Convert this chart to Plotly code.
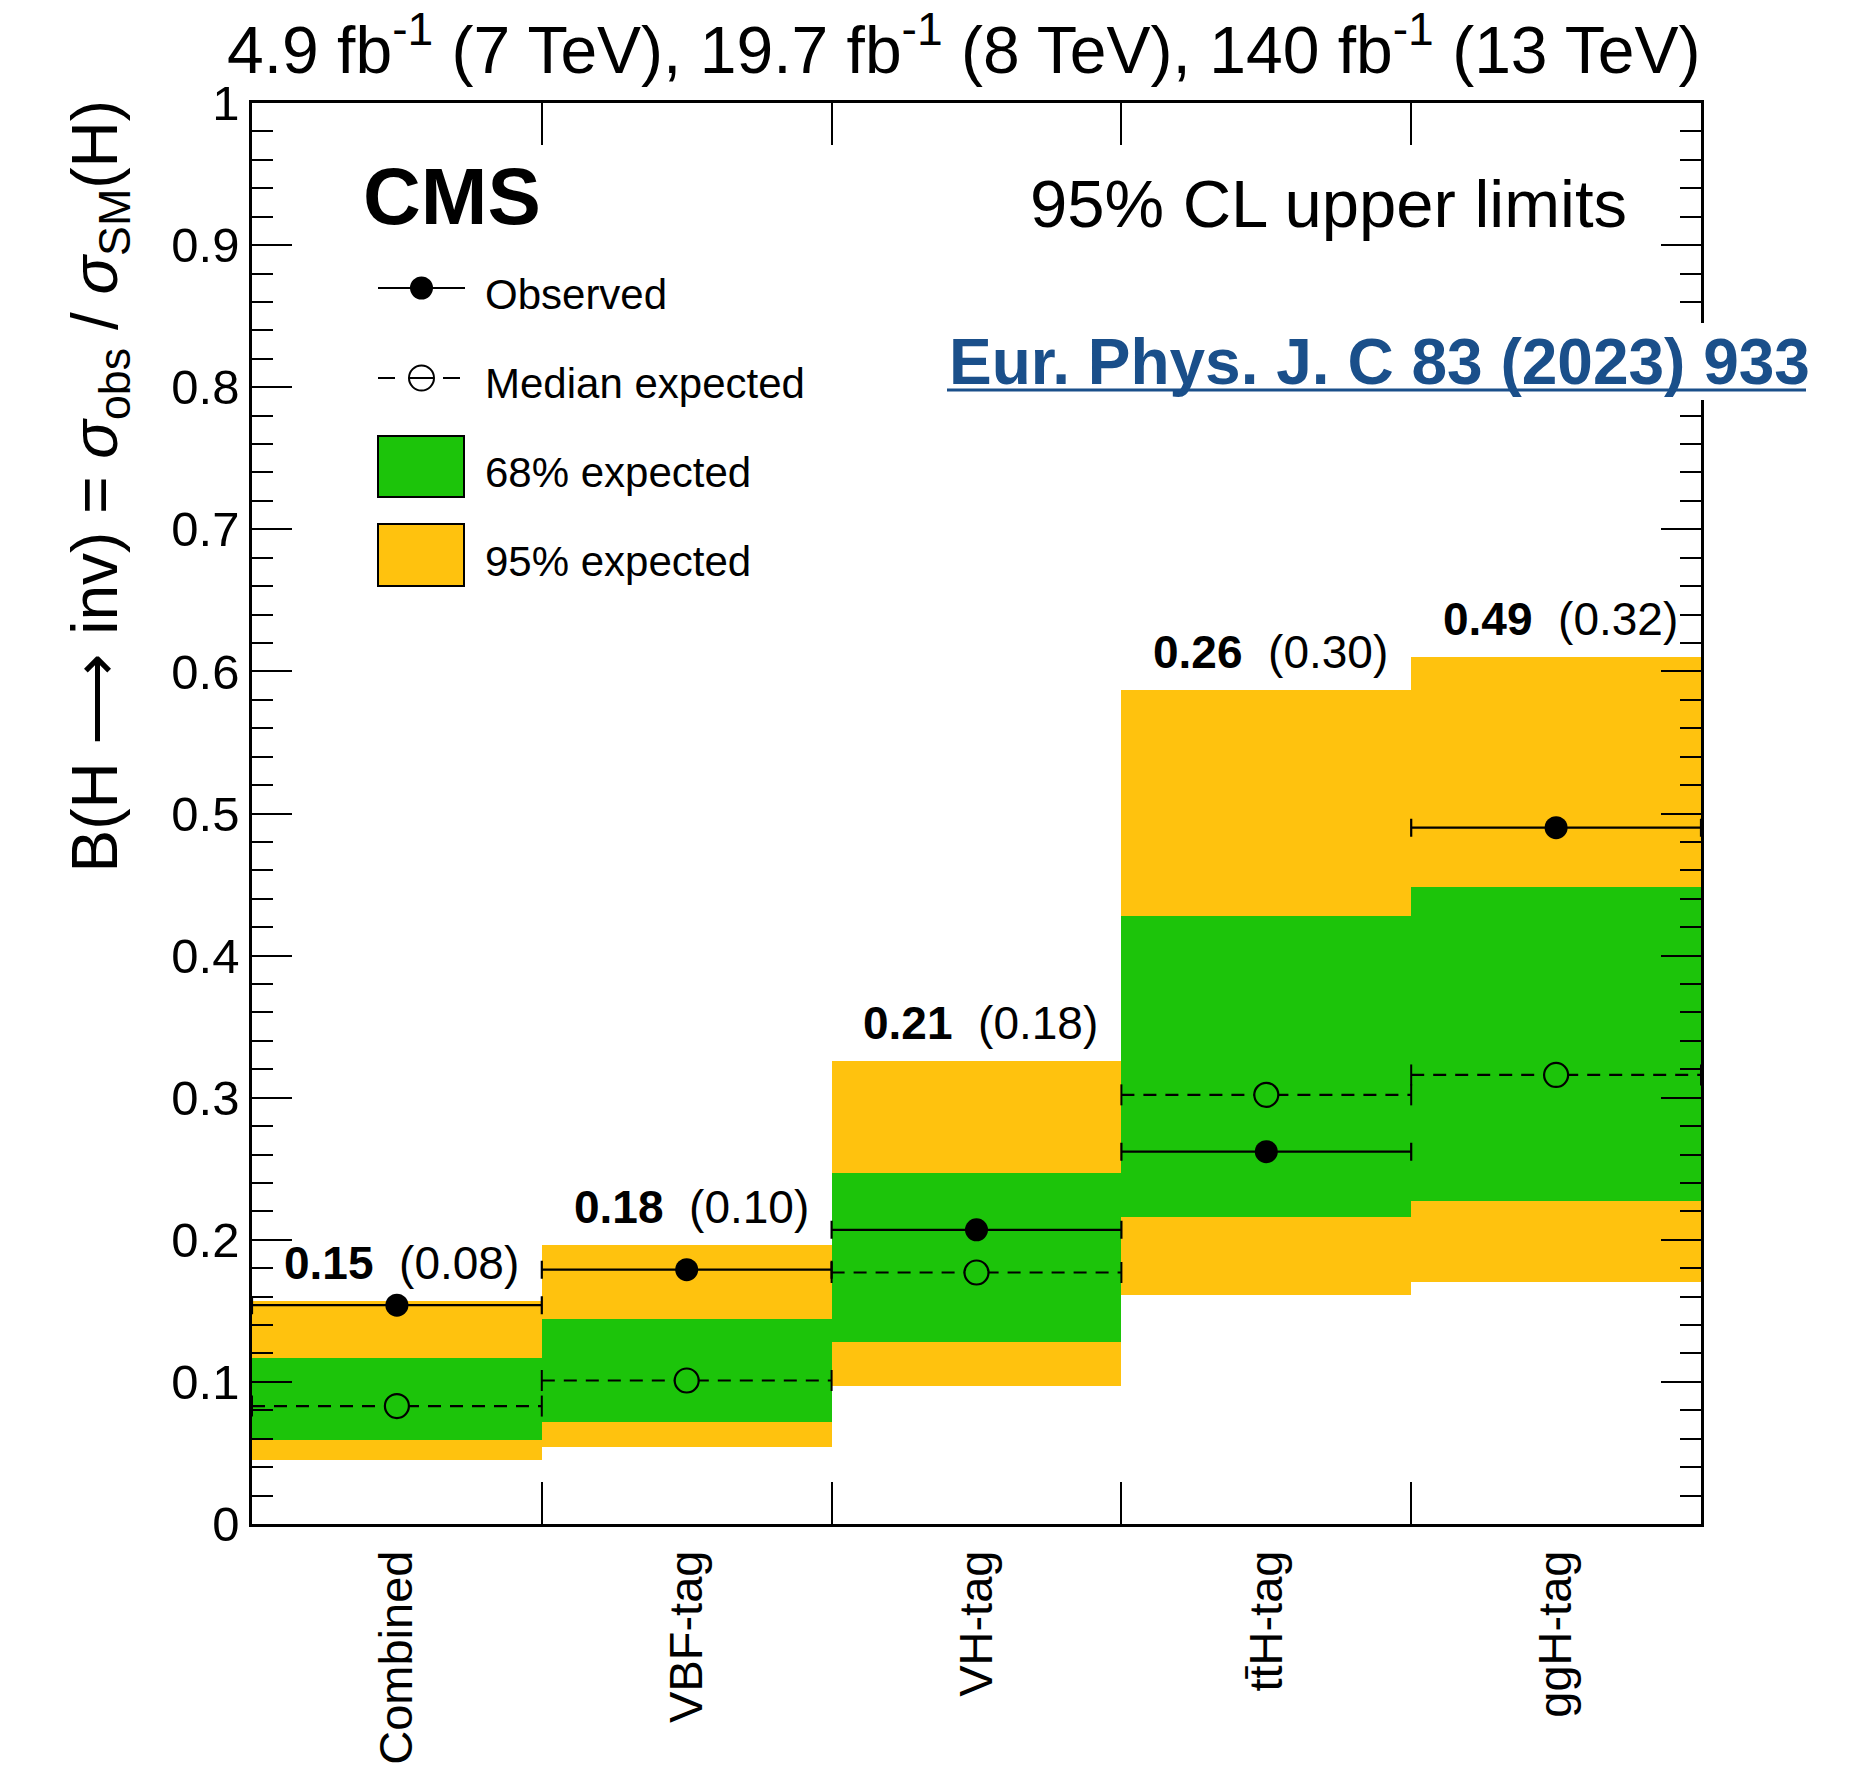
import plotly.graph_objects as go

# Upper limits on B(H -> inv) per category
categories = ["Combined", "VBF-tag", "VH-tag", "tt\u0304H-tag", "ggH-tag"]
observed = [0.154, 0.179, 0.207, 0.262, 0.490]
expected = [0.083, 0.101, 0.177, 0.302, 0.316]
band68_lo = [0.059, 0.072, 0.128, 0.216, 0.227]
band68_hi = [0.117, 0.144, 0.247, 0.428, 0.448]
band95_lo = [0.045, 0.054, 0.097, 0.161, 0.170]
band95_hi = [0.157, 0.196, 0.326, 0.587, 0.610]
y_ticks = [0, 0.1, 0.2, 0.3, 0.4, 0.5, 0.6, 0.7, 0.8, 0.9, 1]
y_ticktext = ["0", "0.1", "0.2", "0.3", "0.4", "0.5", "0.6", "0.7", "0.8", "0.9", "1"]

GREEN = "#1CC40A"
ORANGE = "#FFC20E"
BLUE = "#1A4F8A"
FONT = "Liberation Sans, Arial, Helvetica, sans-serif"

W, H = 1864, 1772
ML, MR, MT, MB = 252, 163, 103, 248
PW, PH = W - ML - MR, H - MT - MB


def px(x):
    return (x - ML) / PW


def py(y):
    return (H - MB - y) / PH


n = len(categories)
centers = [i + 0.5 for i in range(n)]

fig = go.Figure()

# 95% band
fig.add_trace(go.Bar(
    x=centers, y=[h - l for h, l in zip(band95_hi, band95_lo)], base=band95_lo,
    width=1, marker=dict(color=ORANGE, line=dict(width=0)), showlegend=False,
))
# 68% band
fig.add_trace(go.Bar(
    x=centers, y=[h - l for h, l in zip(band68_hi, band68_lo)], base=band68_lo,
    width=1, marker=dict(color=GREEN, line=dict(width=0)), showlegend=False,
))

# median expected: dashed segment across each category
seg_x, seg_y, cap_x, cap_y = [], [], [], []
for i, e in enumerate(expected):
    seg_x += [i, i + 1, None]
    seg_y += [e, e, None]
    cap_x += [i, i + 1]
    cap_y += [e, e]
fig.add_trace(go.Scatter(
    x=seg_x, y=seg_y, mode="lines",
    line=dict(color="black", width=2.2, dash="13px,9px"), showlegend=False,
))
fig.add_trace(go.Scatter(
    x=cap_x, y=cap_y, mode="markers",
    marker=dict(symbol="line-ns", size=15, line=dict(color="black", width=2)),
    showlegend=False,
))
fig.add_trace(go.Scatter(
    x=centers, y=expected, mode="markers",
    marker=dict(symbol="circle", size=24, color=GREEN, line=dict(color="black", width=2.2)),
    showlegend=False,
))

# observed
fig.add_trace(go.Scatter(
    x=centers, y=observed, mode="markers",
    marker=dict(symbol="circle", size=23, color="black"),
    error_x=dict(type="constant", value=0.5, width=9, thickness=2.2, color="black"),
    showlegend=False,
))

# helper trace for the boundary tick axis
fig.add_trace(go.Scatter(x=[None], y=[None], xaxis="x2", showlegend=False, hoverinfo="skip"))

annotations = []
# value labels above each category
for c, o, e, top in zip(centers, observed, expected, band95_hi):
    annotations.append(dict(
        x=c + 0.015, y=top, xref="x", yref="y", xanchor="center", yanchor="bottom",
        yshift=10, showarrow=False,
        text=f"<b>{o:.2f}</b>\u00a0\u00a0({e:.2f})",
        font=dict(size=46, color="black", family=FONT),
    ))

annotations += [
    dict(x=px(1701), y=py(45), xref="paper", yref="paper", xanchor="right", yanchor="middle",
         showarrow=False, borderpad=0,
         text="4.9 fb<sup>-1</sup> (7 TeV), 19.7 fb<sup>-1</sup> (8 TeV), 140 fb<sup>-1</sup> (13 TeV)",
         font=dict(size=66, color="black", family=FONT)),
    dict(x=px(98), y=py(98), xref="paper", yref="paper", xanchor="center", yanchor="top",
         showarrow=False, textangle=-90,
         text="B(H \u27f6 inv) = <i>\u03c3</i><sub>obs</sub> / <i>\u03c3</i><sub>SM</sub>(H)",
         font=dict(size=64, color="black", family=FONT)),
    dict(x=px(361), y=py(197), xref="paper", yref="paper", xanchor="left", yanchor="middle",
         showarrow=False, text="<b>CMS</b>",
         font=dict(size=80, color="black", family=FONT)),
    dict(x=px(1629), y=py(204), xref="paper", yref="paper", xanchor="right", yanchor="middle",
         showarrow=False, text="95% CL upper limits",
         font=dict(size=67, color="black", family=FONT)),
    dict(x=px(947), y=py(362), xref="paper", yref="paper", xanchor="left", yanchor="middle",
         showarrow=False, text="<b>Eur. Phys. J. C 83 (2023) 933</b>",
         font=dict(size=64, color=BLUE, family=FONT)),
]

# legend entries
leg_text = [("Observed", 294), ("Median expected", 383), ("68% expected", 472), ("95% expected", 561)]
for t, yy in leg_text:
    annotations.append(dict(
        x=px(483), y=py(yy), xref="paper", yref="paper", xanchor="left", yanchor="middle",
        showarrow=False, text=t, font=dict(size=42, color="black", family=FONT),
    ))

shapes = [
    # white box behind the reference and its underline
    dict(type="rect", xref="paper", yref="paper", layer="above",
         x0=px(940), x1=px(1812), y0=py(400), y1=py(323),
         fillcolor="white", line=dict(width=0)),
    dict(type="line", xref="paper", yref="paper", layer="above",
         x0=px(947), x1=px(1806), y0=py(390), y1=py(390),
         line=dict(color=BLUE, width=3)),
    # legend: observed
    dict(type="line", xref="paper", yref="paper", layer="above",
         x0=px(378), x1=px(465), y0=py(288), y1=py(288), line=dict(color="black", width=2)),
    dict(type="circle", xref="paper", yref="paper", layer="above",
         x0=px(410), x1=px(433), y0=py(299.5), y1=py(276.5), fillcolor="black", line=dict(width=0)),
    # legend: median expected
    dict(type="line", xref="paper", yref="paper", layer="above",
         x0=px(378), x1=px(395), y0=py(378), y1=py(378), line=dict(color="black", width=2)),
    dict(type="line", xref="paper", yref="paper", layer="above",
         x0=px(443), x1=px(460), y0=py(378), y1=py(378), line=dict(color="black", width=2)),
    dict(type="line", xref="paper", yref="paper", layer="above",
         x0=px(409), x1=px(434), y0=py(378), y1=py(378), line=dict(color="black", width=2)),
    dict(type="circle", xref="paper", yref="paper", layer="above",
         x0=px(409), x1=px(434), y0=py(390.5), y1=py(365.5), line=dict(color="black", width=2)),
    # legend: bands
    dict(type="rect", xref="paper", yref="paper", layer="above",
         x0=px(378), x1=px(464), y0=py(497), y1=py(436),
         fillcolor=GREEN, line=dict(color="black", width=2)),
    dict(type="rect", xref="paper", yref="paper", layer="above",
         x0=px(378), x1=px(464), y0=py(586), y1=py(524),
         fillcolor=ORANGE, line=dict(color="black", width=2)),
]

fig.update_layout(
    width=W, height=H,
    margin=dict(l=ML, r=MR, t=MT, b=MB, pad=0, autoexpand=False),
    paper_bgcolor="white", plot_bgcolor="white",
    barmode="overlay", bargap=0, showlegend=False,
    font=dict(family=FONT, color="black"),
    annotations=annotations, shapes=shapes,
    xaxis=dict(
        range=[0, n], tickvals=centers, ticktext=categories, tickangle=-90,
        ticks="", showgrid=False, zeroline=False, automargin=False,
        showline=True, linecolor="black", linewidth=2.5, mirror=True,
        tickfont=dict(size=47, family=FONT, color="black"), ticklabelstandoff=5,
    ),
    xaxis2=dict(
        range=[0, n], overlaying="x", anchor="y", side="bottom", automargin=False,
        tickvals=list(range(1, n)), ticks="inside", ticklen=42, tickwidth=2, tickcolor="black",
        showticklabels=False, showgrid=False, zeroline=False,
        showline=True, linecolor="black", linewidth=2.5, mirror="ticks",
    ),
    yaxis=dict(
        range=[0, 1], tickvals=y_ticks, ticktext=y_ticktext, automargin=False,
        ticks="inside", ticklen=40, tickwidth=2, tickcolor="black",
        minor=dict(dtick=0.02, tick0=0, ticks="inside", ticklen=21, tickwidth=2, tickcolor="black"),
        showgrid=False, zeroline=False,
        showline=True, linecolor="black", linewidth=2.5, mirror="ticks",
        tickfont=dict(size=49, family=FONT, color="black"), ticklabelstandoff=0,
    ),
)

fig.write_html("out.html")
